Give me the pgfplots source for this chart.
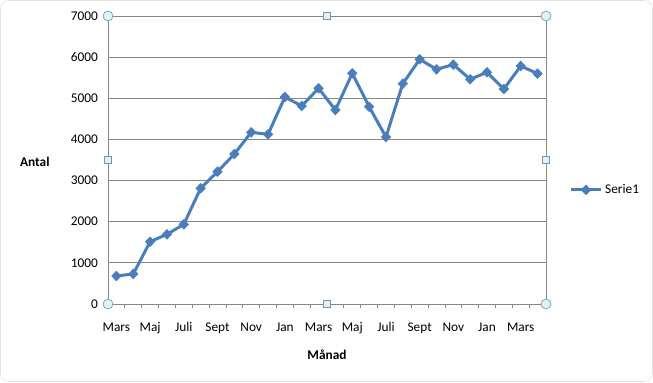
\documentclass[border=0pt]{standalone}
\usepackage{fontspec}
\setmainfont{Carlito}
\usepackage{pgfplots}
\pgfplotsset{compat=1.18}
\definecolor{serie}{RGB}{74,126,187}
\definecolor{gridc}{RGB}{134,134,134}
\definecolor{handlef}{RGB}{225,240,246}
\definecolor{handled}{RGB}{120,150,170}
\tikzset{hc/.style={circle, draw=handled, fill=handlef, minimum size=7.5pt, inner sep=0pt, line width=0.5pt},
  hs/.style={rectangle, draw=handled, fill=handlef, minimum size=5.5pt, inner sep=0pt, line width=0.5pt}}
\begin{document}
\begin{tikzpicture}[x=0.75pt,y=0.75pt]
\useasboundingbox (0,0) rectangle (653,382);
\draw[color={rgb,255:red,225;green,225;blue,225}, rounded corners=6pt] (0.5,0.5) rectangle (652.5,381.5);
\begin{axis}[
  at={(81pt,58.5pt)}, anchor=south west, scale only axis,
  width=328.5pt, height=216pt,
  xmin=-0.5, xmax=25.5, ymin=0, ymax=7000,
  ytick={0,1000,...,7000},
  ymajorgrids, grid style={gridc, line width=0.6pt},
  axis line style={gridc, line width=0.6pt},
  xtick={0,2,...,24},
  xticklabels={Mars,Maj,Juli,Sept,Nov,Jan,Mars,Maj,Juli,Sept,Nov,Jan,Mars},
  minor xtick={-0.5,0.5,...,25.5},
  major tick length=0pt, minor tick length=3pt,
  tick align=outside, xtick pos=bottom, ytick pos=left,
  tick style={gridc, line width=0.6pt},
  /pgf/number format/1000 sep={},
  /pgf/number format/assume math mode=true,
  tick label style={font=\fontsize{10}{12}\selectfont},
  yticklabel style={xshift=-4pt},
  xticklabel style={yshift=-10.5pt},
  xlabel={\textbf{Månad}}, ylabel={\textbf{Antal}},
  every axis x label/.style={at={(rel axis cs:0.5,-0.177)}, anchor=center, font=\fontsize{10}{12}\selectfont},
  every axis y label/.style={at={(rel axis cs:-0.167,0.493)}, anchor=center, font=\fontsize{10}{12}\selectfont},
  legend style={at={(rel axis cs:1.053,0.396)}, anchor=west, draw=none, fill=none,
    font=\fontsize{10}{12}\selectfont, inner sep=0pt},
  legend image code/.code={\draw[#1, mark repeat=2, mark phase=2] plot coordinates {(0pt,0pt) (11.25pt,0pt) (22.5pt,0pt)};},
  clip=false,
]
\addplot[serie, line width=2.25pt, mark=diamond*, mark size=3.6pt,
  mark options={solid, xscale=1.3, line width=0.5pt}] coordinates {
(0,681) (1,730) (2,1515) (3,1694) (4,1937) (5,2812) (6,3216) (7,3646)
(8,4173) (9,4124) (10,5031) (11,4813) (12,5243) (13,4716) (14,5607)
(15,4796) (16,4059) (17,5355) (18,5947) (19,5705) (20,5818) (21,5462)
(22,5632) (23,5226) (24,5785) (25,5599)
};
\addlegendentry{Serie1}
\node[hc] at (rel axis cs:0,0) {};
\node[hc] at (rel axis cs:1,0) {};
\node[hc] at (rel axis cs:0,1) {};
\node[hc] at (rel axis cs:1,1) {};
\node[hs] at (rel axis cs:0.5,0) {};
\node[hs] at (rel axis cs:0.5,1) {};
\node[hs] at (rel axis cs:0,0.5) {};
\node[hs] at (rel axis cs:1,0.5) {};
\end{axis}
\end{tikzpicture}
\end{document}
